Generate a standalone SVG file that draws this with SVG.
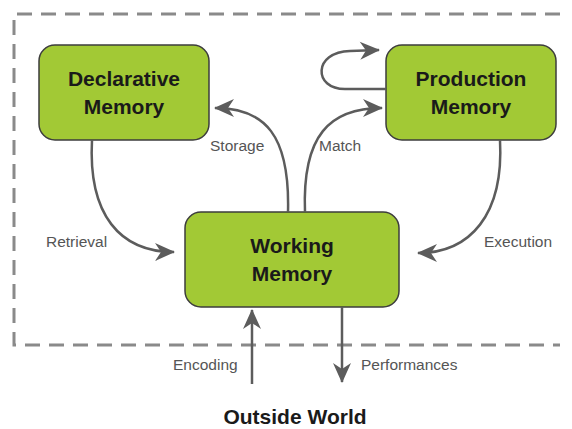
<svg xmlns="http://www.w3.org/2000/svg" width="572" height="429" viewBox="0 0 572 429">
<style>
.box{fill:#a2c935;stroke:#3d3d3d;stroke-width:1.5}
.title{font-family:"Liberation Sans",Arial,sans-serif;font-weight:bold;font-size:21px;fill:#1a1a1a;text-anchor:middle}
.lbl{font-family:"Liberation Sans",Arial,sans-serif;font-size:15.5px;fill:#555}
.con{fill:none;stroke:#5c5c5c;stroke-width:2.5;marker-end:url(#ah)}
</style>
<defs>
<marker id="ah" viewBox="-22 -11 24 22" refX="0" refY="0" markerWidth="24" markerHeight="22" markerUnits="userSpaceOnUse" orient="auto" overflow="visible">
<path d="M1,0 L-19,-9 L-13,0 L-19,9 Z" fill="#5c5c5c"/>
</marker>
</defs>
<rect width="572" height="429" fill="#fff"/>
<path d="M560,14 H14 V345 H560" fill="none" stroke="#8a8a8a" stroke-width="3" stroke-dasharray="15 9"/>
<g id="declarative">
<rect class="box" x="39" y="45" width="170" height="95" rx="16"/>
<text class="title" x="124" y="86">Declarative</text>
<text class="title" x="124" y="114">Memory</text>
</g>
<g id="production">
<rect class="box" x="386" y="45" width="170" height="95" rx="16"/>
<text class="title" x="471" y="86">Production</text>
<text class="title" x="471" y="114">Memory</text>
</g>
<g id="working">
<rect class="box" x="185" y="212" width="214" height="95" rx="16"/>
<text class="title" x="292" y="253">Working</text>
<text class="title" x="292" y="281">Memory</text>
</g>
<g id="connectors">
<path class="con" d="M288,212 C290,135 265,108 215,108"/>
<path class="con" d="M305,212 C302,135 330,108 382,108"/>
<path class="con" d="M386,89 L345,89 C313,89 313,52 350,51 L379,50"/>
<path class="con" d="M92,140 C88,215 120,252 174,252"/>
<path class="con" d="M500,140 C504,215 470,253 418,253"/>
<path class="con" d="M252,384 L252,310"/>
<path class="con" d="M342,307 L342,382"/>
</g>
<g id="labels">
<text class="lbl" x="210" y="151">Storage</text>
<text class="lbl" x="319" y="151">Match</text>
<text class="lbl" x="46" y="247">Retrieval</text>
<text class="lbl" x="484" y="247">Execution</text>
<text class="lbl" x="173" y="370">Encoding</text>
<text class="lbl" x="361" y="370">Performances</text>
</g>
<g id="outside">
<text class="title" x="295" y="424">Outside World</text>
</g>
</svg>
